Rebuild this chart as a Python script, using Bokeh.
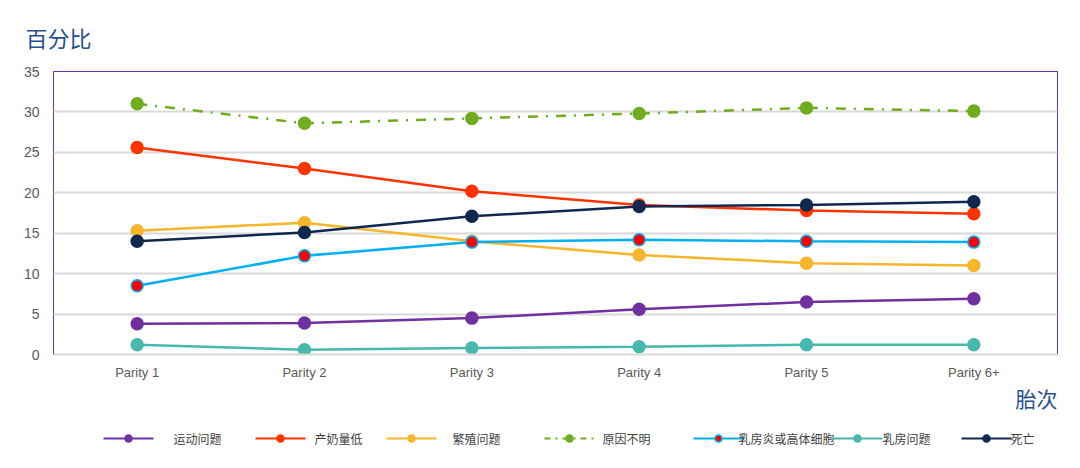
from bokeh.plotting import figure
from bokeh.layouts import column
from bokeh.models import Title, FixedTicker, Range1d, ColumnDataSource
from bokeh.core.properties import value
from bokeh.embed import file_html
from bokeh.resources import INLINE

categories = ["Parity 1", "Parity 2", "Parity 3", "Parity 4", "Parity 5", "Parity 6+"]
series_names = ["运动问题", "产奶量低", "繁殖问题", "原因不明", "乳房炎或高体细胞", "乳房问题", "死亡"]
locomotion = [3.8, 3.9, 4.5, 5.6, 6.5, 6.9]
low_milk = [25.6, 23.0, 20.2, 18.5, 17.8, 17.4]
reproduction = [15.3, 16.3, 14.0, 12.3, 11.3, 11.0]
unknown = [31.0, 28.6, 29.2, 29.8, 30.5, 30.1]
mastitis_scc = [8.5, 12.2, 13.9, 14.2, 14.0, 13.9]
udder = [1.2, 0.6, 0.8, 0.95, 1.2, 1.2]
death = [14.0, 15.1, 17.1, 18.3, 18.5, 18.9]
y_ticks = [0, 5, 10, 15, 20, 25, 30, 35]

series_values = [locomotion, low_milk, reproduction, unknown, mastitis_scc, udder, death]
colors = ["#7030A0", "#FF3300", "#F7B52C", "#6FAC1E", "#00B0F0", "#47B8AD", "#10284F"]
marker_fill = ["#7030A0", "#FF3300", "#F7B52C", "#6FAC1E", "#FF0000", "#47B8AD", "#10284F"]
dashes = ["solid", "solid", "solid", "10 8 2 8", "solid", "solid", "solid"]

FONT = "Liberation Sans"
CJK = "Noto Sans CJK SC"
L, R, T, B = 53, 23, 59, 56
H = 410

p = figure(width=1080, height=H, x_range=categories, y_range=Range1d(0, 35),
           output_backend="svg", toolbar_location=None,
           min_border_left=L, min_border_right=R, min_border_top=T, min_border_bottom=B)
p.title.text = "百分比"
p.title.align = "left"
p.title.offset = -28
p.title.standoff = 37
p.title.text_line_height = 0.5
p.title.text_font = CJK
p.title.text_font_size = "22px"
p.title.text_font_style = "normal"
p.title.text_color = "#25508F"

p.outline_line_color = "#7030A0"
p.outline_line_width = 1
p.xgrid.grid_line_color = None
p.ygrid.grid_line_color = "#D9D9D9"
p.ygrid.grid_line_width = 2
p.yaxis.ticker = FixedTicker(ticks=y_ticks)
for ax in (p.xaxis, p.yaxis):
    ax.axis_line_color = None
    ax.major_tick_line_color = None
    ax.minor_tick_line_color = None
    ax.major_label_text_color = "#595959"
    ax.major_label_text_font = FONT
p.yaxis.major_label_text_font_size = "14px"
p.yaxis.major_label_standoff = 8
p.xaxis.major_label_text_font_size = "13px"
p.xaxis.major_label_standoff = 4
p.xaxis.axis_line_color = "#D9D9D9"
p.xaxis.axis_line_width = 2

p.add_layout(Title(text="胎次", align="right", standoff=-60, text_font=CJK,
                   text_font_size="21px", text_font_style="normal", text_color="#25508F"), "below")

for name, vals, c, mf, d in zip(series_names, series_values, colors, marker_fill, dashes):
    src = ColumnDataSource(dict(x=categories, y=vals))
    p.line("x", "y", source=src, line_color=c, line_width=2.5, line_dash=d)
    p.scatter("x", "y", source=src, size=12, fill_color=mf, line_color=c, line_width=1.5)

LH = 58
lg = figure(width=1080, height=LH, x_range=Range1d(L, 1080 - R), y_range=Range1d(0, LH),
            output_backend="svg", toolbar_location=None,
            min_border_left=L, min_border_right=R, min_border_top=0, min_border_bottom=0)
lg.axis.visible = False
lg.grid.grid_line_color = None
lg.outline_line_color = None
sample_x = [103, 255, 386, 544, 693, 832, 961]
text_x = [173, 314, 452, 602, 738, 882, 1010]
ly = LH - 28
for name, c, mf, d, sx, tx in zip(series_names, colors, marker_fill, dashes, sample_x, text_x):
    lg.line([sx, sx + 50], [ly, ly], line_color=c, line_width=2, line_dash=("6 5 2 5" if d != "solid" else "solid"))
    lg.scatter([sx + 25], [ly], size=7, fill_color=mf, line_color=c, line_width=1.5)
    lg.text([tx], [ly], text=[name], text_font=value(CJK), text_font_size="12px",
            text_color="#404040", text_baseline="middle")

layout = column(p, lg, spacing=0)
open("out.html", "w").write(file_html(layout, INLINE))
